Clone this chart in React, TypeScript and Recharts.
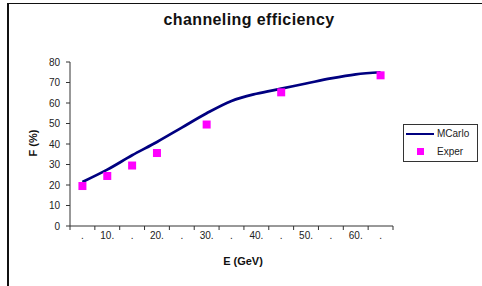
import { ComposedChart, Line, Scatter, XAxis, YAxis } from 'recharts';

const categories = ['.', '10.', '.', '20.', '.', '30.', '.', '40.', '.', '50.', '.', '60.', '.'];
const mcarlo = [21.5, 27.5, 34.5, 41, 48, 55, 61, 64.5, 67, 69.5, 72, 74, 75];
const exper = [19.5, 24.4, 29.5, 35.6, null, 49.5, null, null, 65.2, null, null, null, 73.5];
const yTicks = [0, 10, 20, 30, 40, 50, 60, 70, 80];

const W = 482;
const H = 286;
const MARGIN = { top: 62, right: 89, bottom: 30, left: 30 };
const Y_AXIS_W = 40;
const PLOT_W = W - MARGIN.left - Y_AXIS_W - MARGIN.right;
const STEP = PLOT_W / categories.length;
const FONT = '"Liberation Sans", Arial, sans-serif';

const lineData = categories.map((c, i) => ({ x: i + 0.5, label: c, mcarlo: mcarlo[i] }));
const scatterData = categories
  .map((c, i) => ({ x: i + 0.5, exper: exper[i] }))
  .filter((d) => d.exper !== null);

const xTicks = categories.map((_, i) => i).concat(categories.length);

const CategoryTick = (props: any) => {
  const { x, y, payload } = props;
  const i = payload.value;
  if (i >= categories.length) return null;
  return (
    <text x={x + STEP / 2} y={y} dy="0.71em" textAnchor="middle" fontSize={10} fontFamily={FONT} fill="#222">
      {categories[i]}
    </text>
  );
};

const Square = (props: any) => {
  const { cx, cy } = props;
  return <rect x={cx - 4} y={cy - 4} width={8} height={8} fill="#FF00FF" />;
};

export default function App() {
  return (
    <div style={{ position: 'absolute', left: 0, top: 0, width: W, height: H, background: '#fff', overflow: 'hidden' }}>
      <div
        style={{
          position: 'absolute',
          left: 7,
          top: 3,
          width: W,
          height: H,
          borderLeft: '2px solid #111',
          borderTop: '1px solid #111',
        }}
      />
      <div
        style={{
          position: 'absolute',
          left: 0,
          width: 498,
          top: 11,
          textAlign: 'center',
          fontFamily: FONT,
          fontWeight: 'bold',
          fontSize: 16,
          letterSpacing: 0.4,
          color: '#111',
        }}
      >
        channeling efficiency
      </div>
      <div
        style={{
          position: 'absolute',
          left: 33,
          top: 143,
          transform: 'translate(-50%, -50%) rotate(-90deg)',
          fontFamily: FONT,
          fontWeight: 'bold',
          fontSize: 11,
          color: '#111',
          whiteSpace: 'nowrap',
        }}
      >
        F (%)
      </div>
      <div
        style={{
          position: 'absolute',
          left: 243,
          top: 255,
          transform: 'translateX(-50%)',
          fontFamily: FONT,
          fontWeight: 'bold',
          fontSize: 11,
          color: '#111',
          whiteSpace: 'nowrap',
        }}
      >
        E (GeV)
      </div>
      <div style={{ position: 'absolute', left: 0, top: 0 }}>
        <ComposedChart width={W} height={H} data={lineData} margin={MARGIN}>
          <XAxis
            type="number"
            dataKey="x"
            domain={[0, categories.length]}
            ticks={xTicks}
            interval={0}
            tickSize={4}
            tick={<CategoryTick />}
            stroke="#333"
            height={30}
          />
          <YAxis
            type="number"
            domain={[0, 80]}
            ticks={yTicks}
            interval={0}
            width={Y_AXIS_W}
            tickSize={4}
            tickMargin={6}
            stroke="#333"
            tick={{ fontSize: 10, fontFamily: FONT, fill: '#222' }}
          />
          <Line
            type="monotone"
            dataKey="mcarlo"
            name="MCarlo"
            stroke="#000080"
            strokeWidth={2.75}
            dot={false}
            isAnimationActive={false}
          />
          <Scatter
            data={scatterData}
            dataKey="exper"
            name="Exper"
            shape={<Square />}
            isAnimationActive={false}
          />
        </ComposedChart>
      </div>
      <div
        style={{
          position: 'absolute',
          left: 403,
          top: 124,
          width: 73,
          height: 36,
          border: '1px solid #333',
          background: '#fff',
          fontFamily: FONT,
          fontSize: 10,
          color: '#222',
        }}
      >
        <div style={{ position: 'absolute', left: 2, top: 8, width: 28, height: 2, background: '#000080' }} />
        <div style={{ position: 'absolute', left: 33, top: 3 }}>MCarlo</div>
        <div style={{ position: 'absolute', left: 13, top: 23, width: 7, height: 7, background: '#FF00FF' }} />
        <div style={{ position: 'absolute', left: 33, top: 21 }}>Exper</div>
      </div>
    </div>
  );
}
